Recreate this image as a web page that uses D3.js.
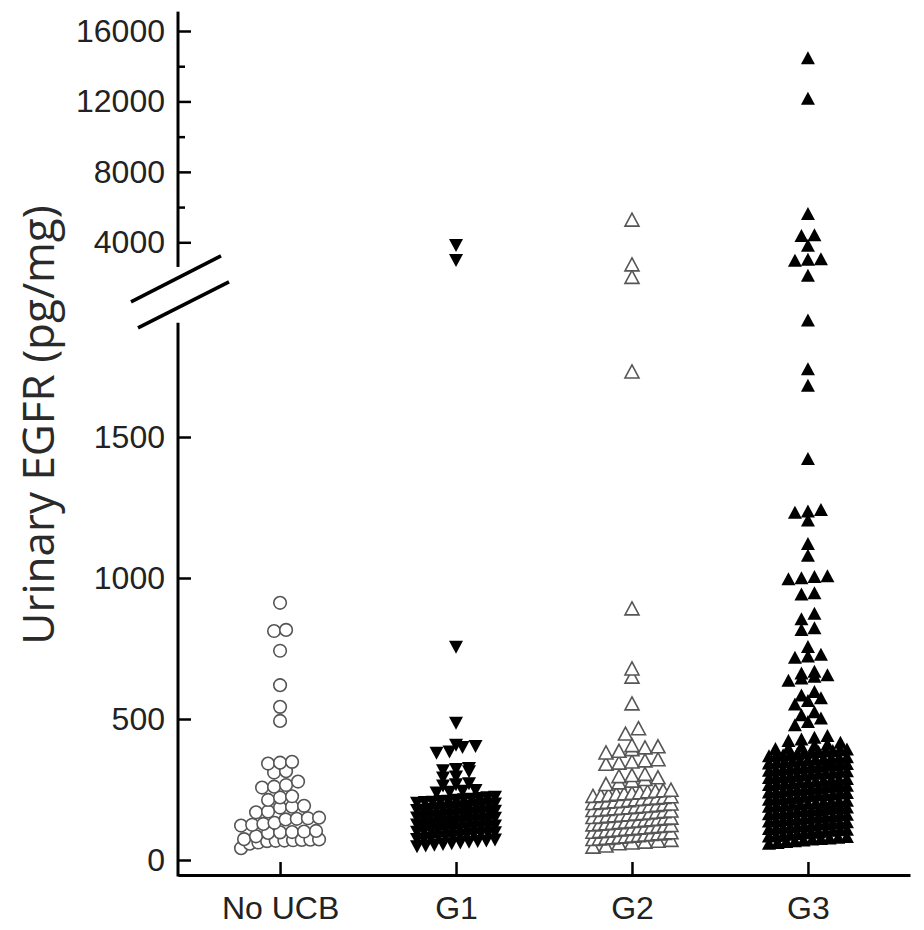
<!DOCTYPE html>
<html>
<head>
<meta charset="utf-8">
<script src="https://cdn.jsdelivr.net/npm/d3@7"></script>
<style>
  body { margin: 0; background: #fff; }
  .tick text { font-family: "Liberation Sans", Arial, sans-serif; font-size: 32px; fill: #222; }
  .tick line { stroke: #000; stroke-width: 2.5; }
  .domain { stroke: #000; stroke-width: 3; }
</style>
</head>
<body>
<div class="chart"></div>
<script>
// groups and tick values
var groups = ["No UCB", "G1", "G2", "G3"];
var lowerTicks = [0, 500, 1000, 1500];
var upperTicks = [4000, 8000, 12000, 16000];
var upperMinorTicks = [6000, 10000, 14000];
var breakValue = 1930; // above this, points go on the upper segment

// values (pg/mg)
var noUcbValues = [912, 816, 812, 742, 620, 543, 493,
  348, 345, 342, 315, 310, 278, 266, 260, 257, 226, 222, 213,
  192, 189, 186, 172, 169, 150, 148, 146, 144, 132, 128, 125, 122,
  103, 101, 99, 98, 96, 84, 74, 73, 72, 71, 70, 69, 68, 67, 62, 58, 42];

var g1Values = [3900, 3050, 760, 490,
  412, 408, 404, 388, 384, 330, 326, 322, 318, 300, 296, 276, 272, 268,
  252, 249, 246, 243, 228, 226, 223, 221, 219, 217,
  214, 213, 210, 209, 207, 204, 203, 201, 199, 196,
  194, 193, 190, 188, 187, 184, 182, 181, 178, 176,
  175, 172, 170, 169, 166, 164, 162, 160, 159, 156,
  154, 153, 150, 148, 146, 145, 142, 140, 138, 137,
  134, 132, 130, 129, 126, 124, 122, 121, 118, 116,
  114, 112, 110, 108, 106, 104, 102, 100, 98, 96,
  93, 91, 89, 87, 85, 82, 80, 78, 76, 73,
  71, 68, 66, 63, 60, 58, 55, 52];

var g2Values = [5200, 2660, 1950, 1727, 887, 674, 645, 550, 462, 443,
  402, 398, 394, 388, 382, 376, 352, 348, 344, 340, 336,
  300, 296, 292, 288, 282, 276, 270, 264,
  244, 242, 240, 238, 235, 233, 231, 229, 226, 224,
  222, 221, 218, 216, 214, 212, 210, 207, 205, 203,
  201, 199, 197, 195, 193, 190, 188, 186, 184, 182,
  180, 178, 176, 174, 172, 170, 168, 166, 163, 161,
  159, 157, 155, 153, 151, 149, 147, 145, 143, 141,
  139, 137, 135, 133, 131, 129, 127, 125, 123, 121,
  119, 117, 115, 113, 111, 109, 107, 105, 103, 101,
  99, 97, 95, 93, 91, 89, 87, 85, 83, 81,
  79, 77, 75, 73, 71, 69, 66, 63, 60, 57, 54, 46, 42];

var g3Values = [14400, 12100, 5550, 4350, 4300, 3750, 2980, 2950, 2900, 2050,
  1910, 1737, 1678, 1418, 1238, 1232, 1228, 1200, 1117, 1075,
  1003, 1000, 996, 992, 942, 938, 870, 850, 818, 812, 752, 724, 718, 714,
  664, 658, 652, 646, 640, 632, 592, 580, 570, 560, 548,
  520, 510, 498, 486, 474, 436, 430, 424, 418, 412, 406, 402, 398,
  392, 390, 388, 386, 383, 381, 379, 377, 375, 372,
  370, 368, 366, 364, 361, 359, 357, 355, 353, 350,
  348, 346, 344, 342, 339, 337, 335, 333, 331, 328,
  326, 324, 322, 320, 317, 315, 313, 311, 309, 306,
  304, 302, 300, 298, 295, 293, 291, 289, 287, 284,
  282, 280, 278, 276, 273, 271, 269, 267, 265, 262,
  260, 258, 256, 254, 251, 249, 247, 245, 243, 240,
  238, 236, 234, 232, 229, 227, 225, 223, 221, 218,
  216, 214, 212, 210, 207, 205, 203, 201, 199, 196,
  194, 192, 190, 188, 185, 183, 181, 179, 177, 174,
  172, 170, 168, 166, 163, 161, 159, 157, 155, 152,
  150, 148, 146, 144, 141, 139, 137, 135, 133, 130,
  128, 126, 124, 122, 119, 117, 115, 113, 111, 108,
  106, 104, 102, 100, 97, 95, 93, 91, 89, 86,
  84, 82, 80, 78, 75, 73, 71, 69, 66, 63, 60, 57, 54];

var seriesValues = [noUcbValues, g1Values, g2Values, g3Values];

var svgWidth = 924, svgHeight = 930;
var axisX = 178, axisY = 875, axisRight = 910;

var svg = d3.select(".chart").append("svg")
  .attr("width", svgWidth)
  .attr("height", svgHeight);

// broken y axis: two linear segments
var yLow = d3.scaleLinear().domain([0, 1500]).range([860, 437]);
var yUp = d3.scaleLinear().domain([4000, 16000]).range([242.3, 31]);
function yPos(v) { return v > breakValue ? yUp(v) : yLow(v); }

var x = d3.scalePoint().domain(groups).range([axisX, axisRight]).padding(0.58);

// marker styles per group
var markers = [
  { shape: "circle", fill: "#fff", stroke: "#555", step: 12, binH: 9 },
  { shape: "down", fill: "#000", stroke: "none", step: 13, binH: 7 },
  { shape: "up", fill: "#fff", stroke: "#555", step: 13, binH: 7 },
  { shape: "up", fill: "#000", stroke: "none", step: 13, binH: 7 }
];
var maxSpread = 78;

// column scatter layout: bin points by pixel row, spread each row around the center
function swarm(vals, cx, m) {
  var pts = vals.map(function(v) { return { v: v, py: yPos(v) }; })
    .sort(function(a, b) { return b.py - a.py; });
  var bins = [], cur = null;
  pts.forEach(function(p) {
    if (!cur || cur.start - p.py >= m.binH) {
      cur = { start: p.py, items: [] };
      bins.push(cur);
    }
    cur.items.push(p);
  });
  var out = [];
  bins.forEach(function(b) {
    var n = b.items.length;
    var s = n > 1 ? Math.min(m.step, maxSpread / (n - 1)) : 0;
    b.items.sort(function(a, c) { return a.v - c.v; });
    b.items.forEach(function(p, i) {
      out.push({ v: p.v, px: cx + (i - (n - 1) / 2) * s, py: p.py });
    });
  });
  return out;
}

var triUp = "M0,-8L7,5L-7,5Z";
var triDown = "M0,8L7,-5L-7,-5Z";

groups.forEach(function(g, gi) {
  var m = markers[gi];
  var pts = swarm(seriesValues[gi], x(g), m);
  var grp = svg.append("g");
  if (m.shape === "circle") {
    grp.selectAll("circle").data(pts).enter().append("circle")
      .attr("cx", d => d.px)
      .attr("cy", d => d.py)
      .attr("r", 6.3)
      .attr("fill", m.fill)
      .attr("stroke", m.stroke)
      .attr("stroke-width", 1.6);
  } else {
    grp.selectAll("path").data(pts).enter().append("path")
      .attr("d", m.shape === "up" ? triUp : triDown)
      .attr("transform", d => `translate(${d.px},${d.py})`)
      .attr("fill", m.fill)
      .attr("stroke", m.stroke)
      .attr("stroke-width", 1.6);
  }
});

// lower y axis
var lowerAxis = svg.append("g")
  .attr("transform", `translate(${axisX},0)`)
  .call(d3.axisLeft(yLow).tickValues(lowerTicks).tickSizeInner(-13).tickSizeOuter(0).tickPadding(13)
    .tickFormat(d3.format("d")));
lowerAxis.select(".domain").remove();

// upper y axis
var upperAxis = svg.append("g")
  .attr("transform", `translate(${axisX},0)`)
  .call(d3.axisLeft(yUp).tickValues(upperTicks).tickSizeInner(-13).tickSizeOuter(0).tickPadding(13)
    .tickFormat(d3.format("d")));
upperAxis.select(".domain").remove();

var upperMinor = svg.append("g")
  .attr("transform", `translate(${axisX},0)`)
  .call(d3.axisLeft(yUp).tickValues(upperMinorTicks).tickSizeInner(-7).tickSizeOuter(0).tickFormat(""));
upperMinor.select(".domain").remove();

// axis lines of both segments
svg.append("line")
  .attr("x1", axisX).attr("x2", axisX)
  .attr("y1", axisY + 1.5).attr("y2", yLow(1905))
  .attr("stroke", "#000").attr("stroke-width", 3);
svg.append("line")
  .attr("x1", axisX).attr("x2", axisX)
  .attr("y1", yUp(2600)).attr("y2", yUp(17100))
  .attr("stroke", "#000").attr("stroke-width", 3);

// break marks
var breakMid = (yUp(2600) + yLow(1905)) / 2;
[[-47, 7, 43, -39], [-40, 33, 51, -13]].forEach(function(b) {
  svg.append("line")
    .attr("x1", axisX + b[0]).attr("y1", breakMid + b[1])
    .attr("x2", axisX + b[2]).attr("y2", breakMid + b[3])
    .attr("stroke", "#000").attr("stroke-width", 3.5);
});

// x axis
svg.append("g")
  .attr("transform", `translate(0,${axisY})`)
  .call(d3.axisBottom(x).tickSizeInner(-13).tickSizeOuter(0).tickPadding(21));

// y axis title
svg.append("text")
  .attr("transform", `translate(54,425) rotate(-90)`)
  .attr("text-anchor", "middle")
  .style("font-family", "'Open Sans', sans-serif")
  .style("font-size", "44px")
  .style("fill", "#2a2a2a")
  .text("Urinary EGFR (pg/mg)");
</script>
</body>
</html>
